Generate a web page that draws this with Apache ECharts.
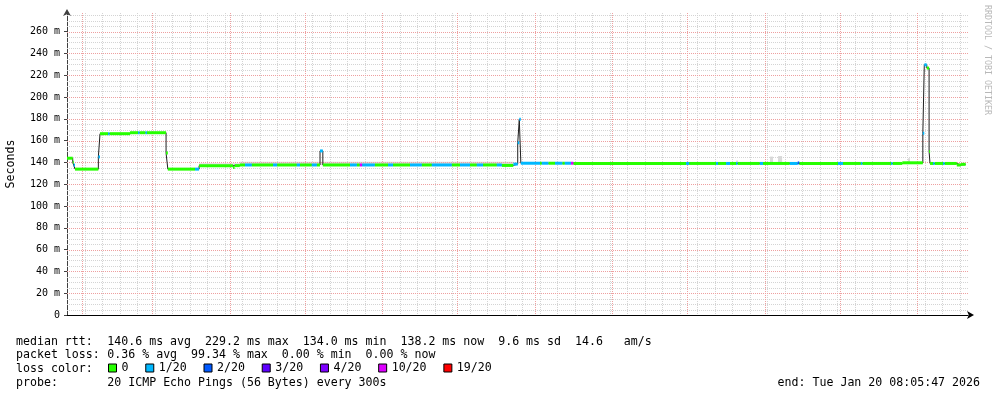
<!DOCTYPE html>
<html>
<head>
    <meta charset="utf-8">
    <script src="https://cdn.jsdelivr.net/npm/echarts@6.0.0/dist/echarts.min.js"></script>
</head>
<body style="margin: 0; background: #fff">
    <div id="container" style="width: 997px; height: 397px"></div>
    <script type="text/javascript">
        // median rtt, one step per segment: value holds until the next start (ms)
        var segStart = [
            '2025-01-25T21:00', '2025-01-28T04:00', '2025-01-28T13:00', '2025-01-29T02:00', '2025-02-07T10:00',
            '2025-02-08T02:00', '2025-02-11T07:00', '2025-02-11T21:00', '2025-02-20T02:00', '2025-02-23T07:00',
            '2025-02-23T21:00', '2025-02-26T07:00', '2025-02-26T21:00', '2025-03-06T12:00', '2025-03-07T05:00',
            '2025-03-18T02:00', '2025-03-19T17:00', '2025-04-02T07:00', '2025-04-02T22:00', '2025-04-05T00:00',
            '2025-04-07T02:00', '2025-04-09T19:00', '2025-04-18T07:00', '2025-04-19T22:00', '2025-04-27T19:00',
            '2025-04-29T02:00', '2025-05-03T19:00', '2025-05-05T19:00', '2025-05-07T02:00', '2025-05-08T05:00',
            '2025-05-19T02:00', '2025-05-21T19:00', '2025-05-23T00:00', '2025-05-23T22:00', '2025-05-29T00:00',
            '2025-06-03T07:00', '2025-06-05T07:00', '2025-06-12T02:00', '2025-06-16T19:00', '2025-06-20T19:00',
            '2025-06-28T19:00', '2025-07-02T02:00', '2025-07-06T02:00', '2025-07-08T19:00', '2025-07-11T07:00',
            '2025-07-16T19:00', '2025-07-18T19:00', '2025-07-23T10:00', '2025-07-25T04:00', '2025-07-25T19:00',
            '2025-07-26T10:00', '2025-08-03T02:00', '2025-08-03T19:00', '2025-08-06T10:00', '2025-08-09T02:00',
            '2025-08-12T00:00', '2025-08-13T00:00', '2025-08-15T12:00', '2025-08-16T10:00', '2025-09-30T12:00',
            '2025-10-01T17:00', '2025-10-12T12:00', '2025-10-13T07:00', '2025-10-16T12:00', '2025-10-18T02:00',
            '2025-10-20T12:00', '2025-10-21T02:00', '2025-10-30T00:00', '2025-10-31T07:00', '2025-11-11T00:00',
            '2025-11-14T04:00', '2025-11-14T19:00', '2025-11-30T07:00', '2025-12-02T07:00', '2025-12-09T10:00',
            '2025-12-10T00:00', '2025-12-21T12:00', '2025-12-22T02:00', '2025-12-26T00:00', '2026-01-03T05:00',
            '2026-01-03T19:00', '2026-01-04T19:00', '2026-01-05T17:00', '2026-01-06T02:00', '2026-01-07T07:00',
            '2026-01-07T22:00', '2026-01-11T07:00', '2026-01-11T22:00', '2026-01-16T19:00', '2026-01-18T12:00'
        ];
        var segMedian = [
            143.8, 140.0, 137.5, 133.8, 145.0,
            166.3, 166.3, 166.3, 167.2, 167.2,
            167.2, 167.2, 167.2, 148.5, 133.8,
            133.8, 136.9, 135.3, 137.0, 137.6,
            137.6, 137.6, 137.6, 137.6, 137.6,
            137.6, 137.6, 137.6, 150.5, 137.6,
            137.6, 137.6, 137.6, 137.6, 137.6,
            137.6, 137.6, 137.6, 137.6, 137.6,
            137.6, 137.6, 137.6, 137.6, 137.6,
            137.6, 137.2, 138.4, 158.0, 179.5,
            139.2, 139.2, 139.2, 139.2, 139.2,
            139.2, 139.2, 139.2, 139.0, 139.0,
            139.0, 139.0, 139.0, 139.0, 139.0,
            139.0, 139.0, 139.0, 139.0, 139.0,
            139.5, 139.0, 139.0, 139.0, 139.0,
            139.0, 139.0, 139.0, 139.6, 166.7,
            229.4, 226.5, 150.0, 139.0, 139.0,
            139.0, 139.0, 139.0, 137.6, 138.2
        ];
        // index into lossNames
        var segLoss = [
            0, 0, 1, 0, 1,
            0, 1, 0, 0, 1,
            0, 1, 0, 0, 0,
            1, 0, 0, 0, 0,
            1, 0, 1, 0, 1,
            0, 1, 0, 1, 0,
            1, 0, 5, 1, 0,
            1, 0, 1, 0, 1,
            0, 1, 0, 1, 0,
            1, 0, 1, 1, 1,
            1, 0, 1, 0, 1,
            0, 1, 5, 0, 1,
            0, 1, 0, 1, 0,
            1, 0, 1, 0, 1,
            2, 0, 1, 0, 1,
            0, 1, 0, 0, 1,
            1, 0, 0, 0, 1,
            0, 1, 0, 0, 0
        ];
        var dataEnd = '2026-01-20T08:05:47';

        // smoke (spread of the pings)
        var smokeStart = ['2025-03-19T17:00', '2025-04-05T00:00', '2025-10-20T12:00', '2025-11-03T02:00', '2025-11-06T07:00', '2025-12-28T07:00'];
        var smokeEnd = ['2025-04-05T00:00', '2025-07-23T10:00', '2025-10-21T07:00', '2025-11-04T07:00', '2025-11-07T22:00', '2025-12-29T02:00'];
        var smokeLow = [137.0, 137.6, 139.0, 139.0, 139.0, 139.0];
        var smokeHigh = [139.3, 140.6, 141.6, 145.3, 145.8, 143.8];

        var lossNames = ['0', '1/20', '2/20', '3/20', '4/20', '10/20', '19/20'];
        var lossColors = ['#26ff00', '#00b8ff', '#0059ff', '#5e00ff', '#7e00ff', '#dd00ff', '#ff0000'];

        var monthStarts = ['2025-02-01', '2025-03-01', '2025-04-01', '2025-05-01', '2025-06-01', '2025-07-01',
            '2025-08-01', '2025-09-01', '2025-10-01', '2025-11-01', '2025-12-01', '2026-01-01'];
        var monthLabels = ["Feb '25", "Mar '25", "Apr '25", "May '25", "Jun '25", "Jul '25",
            "Aug '25", "Sep '25", "Oct '25", "Nov '25", "Dec '25", "Jan '26"];
        var firstSunday = '2025-02-02';

        var axisStart = '2025-01-25T21:00';
        var axisEnd = '2026-01-21T06:36';
        var yMax = 277;

        var MONO = '"DejaVu Sans Mono", monospace';
        var DAY = 86400000;
        var GRAY = '#d4d4d4', RED = '#eea0a0';

        function ts(s) { return new Date(s.length === 10 ? s + 'T00:00' : s).getTime(); }

        var segEnd = segStart.slice(1).concat([dataEnd]);

        // black median line, drawn as explicit steps
        var medianLine = [];
        for (var i = 0; i < segStart.length; i++) {
            medianLine.push([ts(segStart[i]), segMedian[i]]);
            medianLine.push([ts(segEnd[i]), segMedian[i]]);
        }

        function makeBand(color) {
            return function (params, api) {
                var a = api.coord([api.value(0), api.value(2)]);
                var b = api.coord([api.value(1), api.value(2)]);
                return {
                    type: 'rect',
                    shape: { x: a[0], y: a[1] - 1.5, width: Math.max(b[0] - a[0], 1), height: 3 },
                    style: { fill: color }
                };
            };
        }

        function renderSmoke(params, api) {
            var a = api.coord([api.value(0), api.value(3)]);
            var b = api.coord([api.value(1), api.value(2)]);
            return {
                type: 'rect',
                shape: { x: a[0], y: a[1], width: Math.max(b[0] - a[0], 1), height: b[1] - a[1] },
                style: { fill: '#dadada' }
            };
        }

        // grid lines snapped to pixel centres; data = [time, value, vertical?]
        function makeGrid(color) {
            return function (params, api) {
                var cs = params.coordSys;
                var p = api.coord([api.value(0), api.value(1)]);
                var shape;
                if (api.value(2) === 1) {
                    var x = Math.round(p[0]) + 0.5;
                    shape = { x1: x, y1: cs.y, x2: x, y2: cs.y + cs.height };
                } else {
                    var y = Math.round(p[1]) + 0.5;
                    shape = { x1: cs.x, y1: y, x2: cs.x + cs.width, y2: y };
                }
                return { type: 'line', shape: shape, style: { stroke: color, fill: null, lineWidth: 1, lineDash: [1, 1] } };
            };
        }

        var smokeData = [];
        for (var i = 0; i < smokeStart.length; i++) {
            smokeData.push([ts(smokeStart[i]), ts(smokeEnd[i]), smokeLow[i], smokeHigh[i]]);
        }

        var grayLines = [], redLines = [];
        for (var t = ts(firstSunday); t < ts(axisEnd); t += 7 * DAY) grayLines.push([t, 0, 1]);
        for (var v = 5; v < yMax; v += 5) {
            if (v % 20 === 0) redLines.push([ts(axisStart), v, 0]);
            else grayLines.push([ts(axisStart), v, 0]);
        }
        monthStarts.forEach(function (m) { redLines.push([ts(m), 0, 1]); });

        // month labels sit half a month after the month line
        var labelPoints = monthStarts.map(function (m) { return [ts(m) + 15 * DAY, 0]; });

        var series = [
            {
                name: 'smoke', type: 'custom', z: 1, silent: true,
                renderItem: renderSmoke, encode: { x: [0, 1], y: [2, 3] }, data: smokeData
            },
            {
                name: 'grid-minor', type: 'custom', z: 2, silent: true,
                renderItem: makeGrid(GRAY), encode: { x: 0, y: 1 }, data: grayLines
            },
            {
                name: 'grid-major', type: 'custom', z: 2, silent: true,
                renderItem: makeGrid(RED), encode: { x: 0, y: 1 }, data: redLines
            },
            {
                name: 'median', type: 'line', z: 3, silent: true, showSymbol: false,
                lineStyle: { color: '#202020', width: 1 }, data: medianLine
            }
        ];
        lossNames.forEach(function (name, k) {
            var rows = [];
            for (var i = 0; i < segStart.length; i++) {
                if (segLoss[i] === k) rows.push([ts(segStart[i]), ts(segEnd[i]), segMedian[i]]);
            }
            series.push({
                name: name, type: 'custom', z: 4, silent: true,
                itemStyle: { color: lossColors[k] },
                renderItem: makeBand(lossColors[k]), encode: { x: [0, 1], y: 2 }, data: rows
            });
        });
        series.push({
            name: 'months', type: 'scatter', z: 5, silent: true, clip: false,
            symbolSize: 1, itemStyle: { opacity: 0 },
            label: {
                show: true, position: 'bottom', distance: 4,
                fontFamily: MONO, fontSize: 10, color: '#000',
                formatter: function (p) { return monthLabels[p.dataIndex]; }
            },
            data: labelPoints
        });

        var txt = function (x, y, text, extra) {
            var style = { text: text, font: '11.6px ' + MONO, fill: '#000', verticalAlign: 'middle' };
            for (var k in extra) style[k] = extra[k];
            return { type: 'text', x: x, y: y, silent: true, style: style };
        };

        var seconds = txt(11, 164, 'Seconds', { align: 'center' });
        seconds.rotation = Math.PI / 2;

        var option = {
            animation: false,
            backgroundColor: '#fff',
            grid: { left: 67, right: 29, top: 13, bottom: 82 },
            xAxis: {
                type: 'time', min: ts(axisStart), max: ts(axisEnd),
                axisLabel: { show: false }, axisTick: { show: false }, splitLine: { show: false },
                axisLine: { lineStyle: { color: '#000', width: 1 }, symbol: ['none', 'arrow'], symbolSize: [6, 7], symbolOffset: [0, 6] }
            },
            yAxis: {
                type: 'value', min: 0, max: yMax, interval: 20,
                splitLine: { show: false },
                axisLine: { show: true, lineStyle: { color: '#404040', width: 1 }, symbol: ['none', 'arrow'], symbolSize: [6, 7], symbolOffset: [0, 4] },
                axisTick: { show: true, length: 3, lineStyle: { color: '#404040' } },
                axisLabel: {
                    margin: 7, fontFamily: MONO, fontSize: 10, color: '#000', showMaxLabel: false,
                    formatter: function (v) { return v === 0 ? '0' : v + ' m'; }
                }
            },
            legend: {
                data: lossNames, selectedMode: false,
                left: 108, top: 362, padding: 0,
                icon: 'rect', itemWidth: 8, itemHeight: 8, itemGap: 16.8,
                itemStyle: { borderColor: '#000', borderWidth: 1 },
                textStyle: { fontFamily: MONO, fontSize: 11.6, color: '#000' }
            },
            graphic: [
                seconds,
                { type: 'text', x: 987, y: 5, rotation: -Math.PI / 2, silent: true,
                  style: { text: 'RRDTOOL / TOBI OETIKER', font: '8.3px ' + MONO, fill: '#b8b8b8', verticalAlign: 'middle' } },
                txt(16, 341.7, 'median rtt:'),
                txt(107.3, 341.7, '140.6 ms avg  229.2 ms max  134.0 ms min  138.2 ms now  9.6 ms sd  14.6   am/s'),
                txt(16, 355.3, 'packet loss:'),
                txt(107.3, 355.3, '0.36 % avg  99.34 % max  0.00 % min  0.00 % now'),
                txt(16, 369, 'loss color:'),
                txt(16, 382.7, 'probe:'),
                txt(107.3, 382.7, '20 ICMP Echo Pings (56 Bytes) every 300s'),
                txt(980, 382.7, 'end: Tue Jan 20 08:05:47 2026', { align: 'right' })
            ],
            series: series
        };

        var myChart = echarts.init(document.getElementById('container'));
        myChart.setOption(option, true);
    </script>
</body>
</html>
